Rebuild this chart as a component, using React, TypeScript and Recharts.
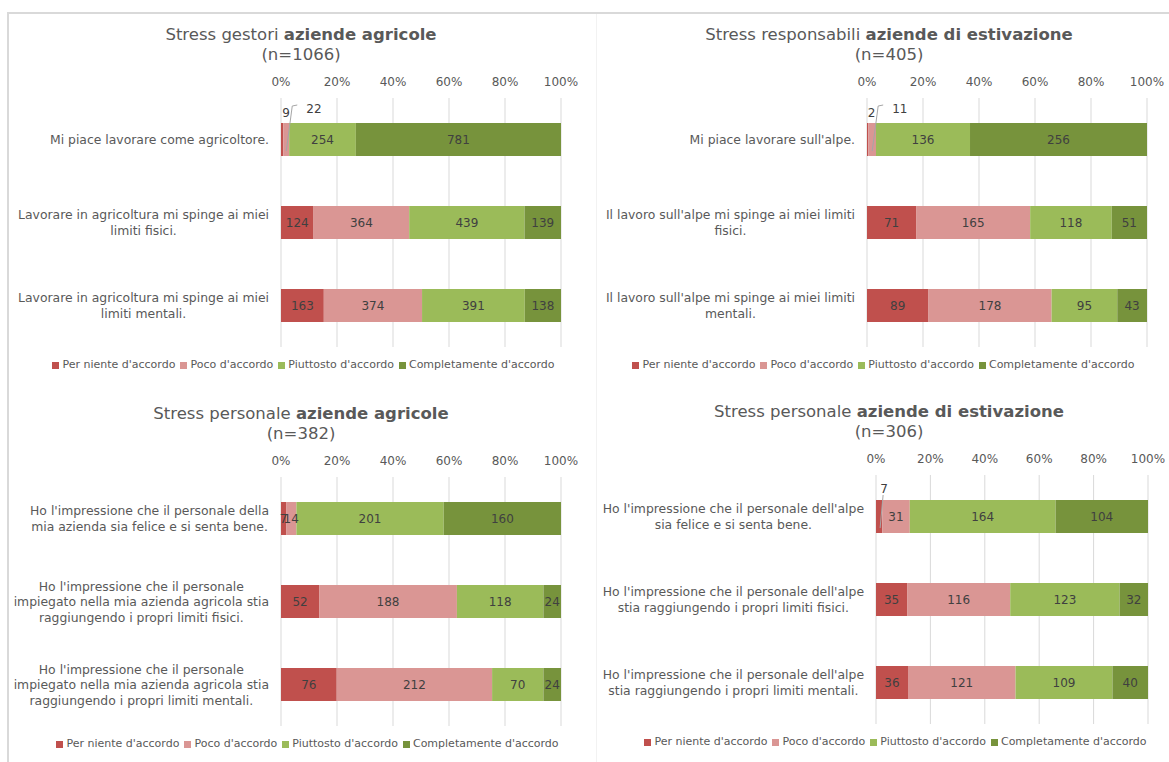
import React from 'react';
import { BarChart, Bar, XAxis, YAxis, CartesianGrid, Legend, LabelList } from 'recharts';

const seriesNames = ["Per niente d'accordo", "Poco d'accordo", "Piuttosto d'accordo", 'Completamente d\'accordo'];
const percentTicks = [0, 0.2, 0.4, 0.6, 0.8, 1];

// Stress gestori aziende agricole (n=1066)
const gestoriCategories = [
  'Mi piace lavorare come agricoltore.',
  'Lavorare in agricoltura mi spinge ai miei\nlimiti fisici.',
  'Lavorare in agricoltura mi spinge ai miei\nlimiti mentali.',
];
const gestoriPerNiente = [9, 124, 163];
const gestoriPoco = [22, 364, 374];
const gestoriPiuttosto = [254, 439, 391];
const gestoriCompletamente = [781, 139, 138];

// Stress responsabili aziende di estivazione (n=405)
const alpeCategories = [
  "Mi piace lavorare sull'alpe.",
  "Il lavoro sull'alpe mi spinge ai miei limiti\nfisici.",
  "Il lavoro sull'alpe mi spinge ai miei limiti\nmentali.",
];
const alpePerNiente = [2, 71, 89];
const alpePoco = [11, 165, 178];
const alpePiuttosto = [136, 118, 95];
const alpeCompletamente = [256, 51, 43];

// Stress personale aziende agricole (n=382)
const personaleAgrCategories = [
  "Ho l'impressione che il personale della\nmia azienda sia felice e si senta bene.",
  "Ho l'impressione che il personale\nimpiegato nella mia azienda agricola stia\nraggiungendo i propri limiti fisici.",
  "Ho l'impressione che il personale\nimpiegato nella mia azienda agricola stia\nraggiungendo i propri limiti mentali.",
];
const personaleAgrPerNiente = [7, 52, 76];
const personaleAgrPoco = [14, 188, 212];
const personaleAgrPiuttosto = [201, 118, 70];
const personaleAgrCompletamente = [160, 24, 24];

// Stress personale aziende di estivazione (n=306)
const personaleAlpeCategories = [
  "Ho l'impressione che il personale dell'alpe\nsia felice e si senta bene.",
  "Ho l'impressione che il personale dell'alpe\nstia raggiungendo i propri limiti fisici.",
  "Ho l'impressione che il personale dell'alpe\nstia raggiungendo i propri limiti mentali.",
];
const personaleAlpePerNiente = [7, 35, 36];
const personaleAlpePoco = [31, 116, 121];
const personaleAlpePiuttosto = [164, 123, 109];
const personaleAlpeCompletamente = [104, 32, 40];

const COLORS = ['#C0504D', '#DA9694', '#9BBB59', '#77933C'];
const FONT = '"DejaVu Sans", Verdana, sans-serif';
const GRAY = '#595959';
const CAT_SIZE = 12.4;

let measureCtx: CanvasRenderingContext2D | null = null;
function textWidth(s: string, size: number) {
  if (!measureCtx) measureCtx = document.createElement('canvas').getContext('2d');
  if (!measureCtx) return s.length * size * 0.55;
  measureCtx.font = `${size}px "DejaVu Sans"`;
  return measureCtx.measureText(s).width;
}

function CategoryTick(props: any) {
  const { x, y, payload } = props;
  const lines = String(payload.value).split('\n');
  const w = Math.max(...lines.map((l) => textWidth(l, CAT_SIZE)));
  const cx = x - w / 2;
  const lh = 15.5;
  return (
    <g>
      {lines.map((l, i) => (
        <text key={i} x={cx} y={y + (i - (lines.length - 1) / 2) * lh + 4.5} textAnchor="middle"
          fontSize={CAT_SIZE} fontFamily={FONT} fill={GRAY}>{l}</text>
      ))}
    </g>
  );
}

function makeLabel(seriesIdx: number, rows: number[][], callouts: boolean) {
  return (props: any) => {
    const { x, y, width, height, value, index } = props;
    const total = rows.reduce((s, r) => s + r[index], 0);
    const frac = value / total;
    const small = callouts && frac < 0.03;
    const cx = x + width / 2;
    if (!small) {
      return (
        <text x={cx} y={y + height / 2 + 4} textAnchor="middle" fontSize={12} fontFamily={FONT} fill="#404040">{value}</text>
      );
    }
    const nextSmall = seriesIdx === 0 && rows[1][index] / total < 0.03;
    if (seriesIdx === 0 && nextSmall) {
      return <text x={cx + 4} y={y - 6} textAnchor="middle" fontSize={12} fontFamily={FONT} fill="#404040">{value}</text>;
    }
    if (seriesIdx === 0) {
      return (
        <g>
          <line x1={cx + 1} y1={y + height * 0.85} x2={cx + 4} y2={y - 5} stroke="#A6A6A6" strokeWidth={1} />
          <text x={cx + 5} y={y - 7} textAnchor="middle" fontSize={12} fontFamily={FONT} fill="#404040">{value}</text>
        </g>
      );
    }
    return (
      <g>
        <polyline points={`${cx},${y + height * 0.85} ${cx + 6},${y - 17} ${cx + 11},${y - 18}`} fill="none" stroke="#A6A6A6" strokeWidth={1} />
        <text x={cx + 20} y={y - 10} textAnchor="start" fontSize={12} fontFamily={FONT} fill="#404040">{value}</text>
      </g>
    );
  };
}

type PanelProps = {
  left: number;
  top: number;
  titleNormal: string;
  titleBold: string;
  n: number;
  categories: string[];
  series: number[][];
  yWidth: number;
  rightMargin: number;
  callouts: boolean;
  legendCenter: number;
};

function Panel({ left, top, titleNormal, titleBold, n, categories, series, yWidth, rightMargin, callouts, legendCenter }: PanelProps) {
  const data = categories.map((c, i) => ({
    name: c,
    s0: series[0][i],
    s1: series[1][i],
    s2: series[2][i],
    s3: series[3][i],
  }));
  const legendWidth = 560;
  return (
    <div style={{ position: 'absolute', left, top, width: 588, height: 378 }}>
      <div style={{ position: 'absolute', top: 13, left: 0, width: 588, textAlign: 'center', color: GRAY, fontSize: 16.5, lineHeight: '20px' }}>
        <div>{titleNormal} <b>{titleBold}</b></div>
        <div>(n={n})</div>
      </div>
      <BarChart width={588} height={365} data={data} layout="vertical" stackOffset="expand"
        margin={{ top: 66, right: rightMargin, bottom: 5, left: 0 }} barSize={33}>
        <CartesianGrid horizontal={false} stroke="#D9D9D9" />
        <XAxis type="number" orientation="top" domain={[0, 1]} ticks={percentTicks} height={20}
          axisLine={false} tickLine={false} tickSize={0} tickMargin={12} interval={0}
          tickFormatter={(v: number) => `${Math.round(v * 100)}%`}
          tick={{ fill: GRAY, fontSize: 12, fontFamily: FONT }} />
        <YAxis type="category" dataKey="name" width={yWidth} axisLine={false} tickLine={false}
          tickSize={0} tickMargin={12} tick={<CategoryTick />} interval={0} />
        <Legend verticalAlign="bottom" iconType="square" iconSize={7} itemSorter="dataKey"
          wrapperStyle={{ paddingTop: 11, fontSize: 11, lineHeight: '14px', left: legendCenter - legendWidth / 2, width: legendWidth }}
          formatter={(v: string) => <span style={{ color: GRAY }}>{v}</span>} />
        {seriesNames.map((nm, i) => (
          <Bar key={nm} dataKey={`s${i}`} name={nm} stackId="a" fill={COLORS[i]} isAnimationActive={false}>
            <LabelList dataKey={`s${i}`} content={makeLabel(i, series, callouts)} />
          </Bar>
        ))}
      </BarChart>
    </div>
  );
}

export default function App() {
  return (
    <div style={{ position: 'fixed', left: 0, top: 0, width: 1169, height: 762, overflow: 'hidden', background: '#fff', fontFamily: FONT }}>
      <style>{'.recharts-legend-item{margin-right:5px !important}.recharts-legend-item svg{margin-right:3px !important}'}</style>
      <div style={{ position: 'absolute', left: 7, top: 12, right: 0, height: 2, background: '#D9D9D9' }} />
      <div style={{ position: 'absolute', left: 7, top: 12, width: 2, bottom: 0, background: '#D9D9D9' }} />
      <div style={{ position: 'absolute', left: 596, top: 14, width: 1, bottom: 0, background: '#F2F2F2' }} />
      <Panel left={7} top={12} titleNormal="Stress gestori" titleBold="aziende agricole" n={1066}
        categories={gestoriCategories}
        series={[gestoriPerNiente, gestoriPoco, gestoriPiuttosto, gestoriCompletamente]}
        yWidth={274} rightMargin={34} callouts={true} legendCenter={299} />
      <Panel left={595} top={12} titleNormal="Stress responsabili" titleBold="aziende di estivazione" n={405}
        categories={alpeCategories}
        series={[alpePerNiente, alpePoco, alpePiuttosto, alpeCompletamente]}
        yWidth={272} rightMargin={36} callouts={true} legendCenter={291} />
      <Panel left={7} top={391} titleNormal="Stress personale" titleBold="aziende agricole" n={382}
        categories={personaleAgrCategories}
        series={[personaleAgrPerNiente, personaleAgrPoco, personaleAgrPiuttosto, personaleAgrCompletamente]}
        yWidth={274} rightMargin={34} callouts={false} legendCenter={303} />
      <Panel left={595} top={389} titleNormal="Stress personale" titleBold="aziende di estivazione" n={306}
        categories={personaleAlpeCategories}
        series={[personaleAlpePerNiente, personaleAlpePoco, personaleAlpePiuttosto, personaleAlpeCompletamente]}
        yWidth={281} rightMargin={35} callouts={true} legendCenter={303} />
    </div>
  );
}
